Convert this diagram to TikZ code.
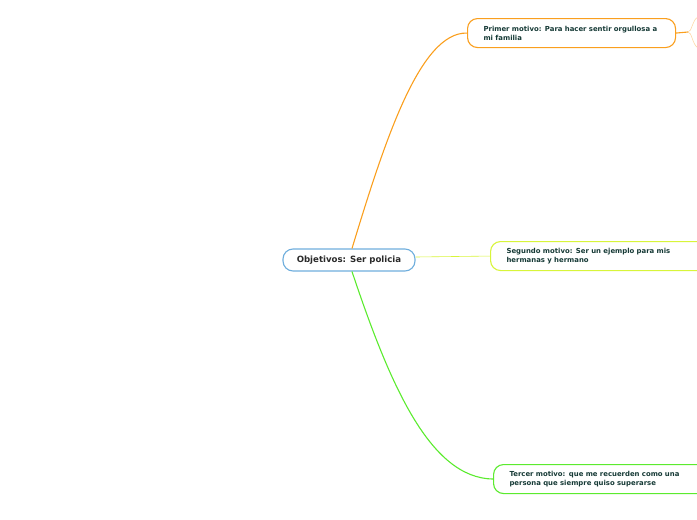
\documentclass[tikz,border=0pt]{standalone}
\usepackage{fontspec}
\setmainfont{DejaVu Sans}
\definecolor{cblue}{HTML}{6FAEDD}
\definecolor{corange}{HTML}{FA9F1E}
\definecolor{clorange}{HTML}{FCD9A8}
\definecolor{cyellow}{HTML}{D8F53A}
\definecolor{cgreen}{HTML}{5BEB2E}
\definecolor{ctext}{HTML}{163A36}
\definecolor{cmain}{HTML}{2A2A2A}
\begin{document}
\begin{tikzpicture}[x=1pt,y=-1pt,
  topic/.style={draw, rounded corners=10pt, line width=1.1pt, fill=white, inner ysep=0pt, anchor=north west,
     font=\bfseries\fontsize{6.9}{9}\selectfont, text=ctext, align=left, inner xsep=16pt, minimum height=29pt, text width=#1},
  conn/.style={line width=1.1pt}]
\useasboundingbox (0,0) rectangle (697,520);
% central
\node[draw=cblue, fill=white, rounded corners=10pt, line width=1.1pt, minimum width=132pt, minimum height=22pt,
  font=\bfseries\fontsize{8.6}{10}\selectfont, text=cmain] (main) at (349,260) {Objetivos: Ser policia};
% topics
\node[topic=176pt, draw=corange] (t1) at (467,18) {Primer motivo: Para hacer sentir orgullosa a\\mi familia};
\node[topic=185pt, draw=cyellow] (t2) at (490,241) {Segundo motivo: Ser un ejemplo para mis\\hermanas y hermano};
\node[topic=185pt, draw=cgreen] (t3) at (493,464) {Tercer motivo: que me recuerden como una\\persona que siempre quiso superarse};
\coordinate (fork) at (688,32);
\coordinate (up) at (698,17);
\coordinate (down) at (698,48);
% connectors
\draw[conn, corange] ([xshift=3pt]main.north) .. controls (385,140) and (420,32) .. (t1.west);
\draw[conn, cgreen] ([xshift=3pt]main.south) .. controls (390,385) and (430,478) .. (t3.west);
\draw[line width=0.6pt, cyellow] ([yshift=3pt]main.east) -- (t2.west);
\draw[conn, corange] (t1.east) -- (fork);
\draw[line width=0.6pt, clorange] (fork) .. controls (692,32) and (692,20) .. (up);
\draw[line width=0.6pt, clorange] (fork) .. controls (692,32) and (692,44) .. (down);
\end{tikzpicture}
\end{document}
